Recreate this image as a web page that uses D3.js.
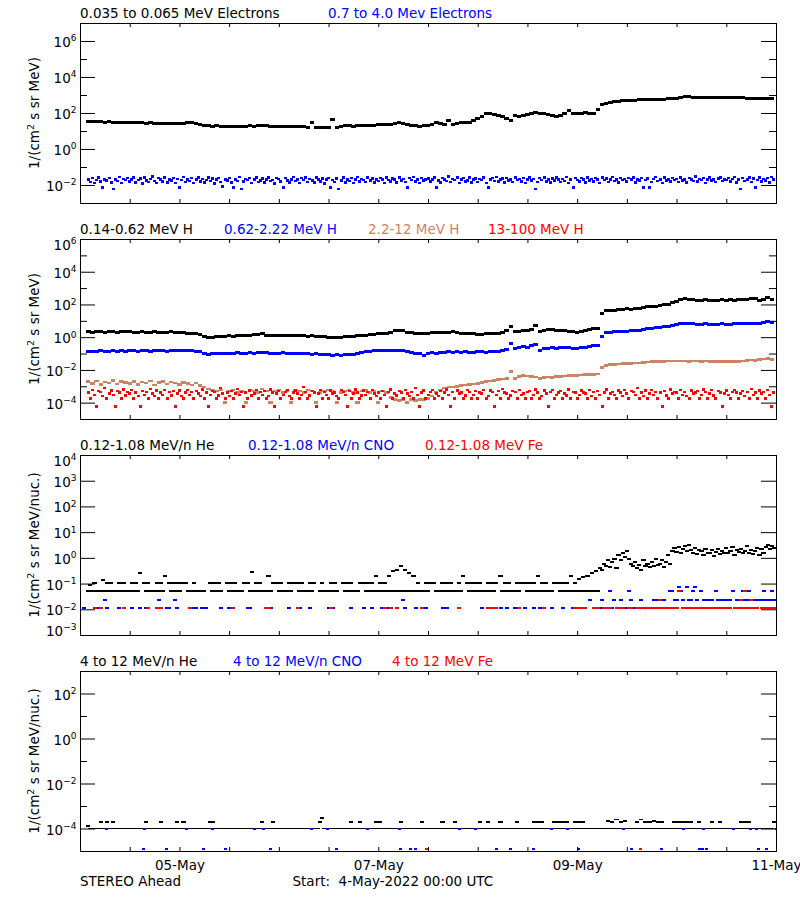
<!DOCTYPE html>
<html><head><meta charset="utf-8">
<script src="https://cdn.jsdelivr.net/npm/d3@7"></script>
<style>
body{margin:0;background:#fff}
svg{display:block;font-family:"DejaVu Sans",sans-serif}
text{white-space:pre}
</style></head><body>
<svg id="chart" width="800" height="900"></svg>
<script>
const _ = null;

// ---------- text ----------
const electronTitles = ["0.035 to 0.065 MeV Electrons", "0.7 to 4.0 Mev Electrons"];
const protonTitles = ["0.14-0.62 MeV H", "0.62-2.22 MeV H", "2.2-12 MeV H", "13-100 MeV H"];
const lowIonTitles = ["0.12-1.08 MeV/n He", "0.12-1.08 MeV/n CNO", "0.12-1.08 MeV Fe"];
const highIonTitles = ["4 to 12 MeV/n He", "4 to 12 MeV/n CNO", "4 to 12 MeV Fe"];
const dateTickLabels = ["05-May", "07-May", "09-May", "11-May"];
const footerLeft = "STEREO Ahead";
const footerStart = "Start:  4-May-2022 00:00 UTC";

// ---------- data (hours from 4-May-2022 00:00 UTC) ----------
// 0.035-0.065 MeV electrons, hourly
const eLowFlux = [
 _,_,34,33,32,33,31,32,30,31,30,29,
 28,29,28,28,27,28,27,26,27,26,26,27,
 26,27,28,28,25,23,20,19,18,19,18,18,
 18,18,17,18,18,19,18,19,20,19,18,17,
 17,17,18,17,18,18,17,16,30,16,16,15,
 15,45,16,17,19,19,18,19,20,20,21,21,
 22,22,23,24,27,28,26,22,20,19,18,19,
 21,23,30,25,24,38,23,25,28,29,31,40,
 50,62,88,95,80,71,60,52,36,70,60,72,
 85,95,107,100,90,82,75,68,72,88,130,100,
 98,100,102,98,95,150,300,340,380,410,440,470,
 500,510,520,530,540,545,550,560,570,580,600,620,
 680,740,780,790,770,750,740,745,735,730,720,715,
 710,710,700,700,690,680,660,650,660,650,655,650
];
// 0.7-4.0 MeV electrons, half-hourly
const eHighFlux = [
 _,_,_,_,.02,.015,.024,.013,.019,.027,.016,.007, .021,.018,.025,.014,.006,.02,.017,.028,.013,.022,.019,.024,
 .016,.021,.026,.014,.019,.023,.012,.027,.018,.015,.022,.029, .017,.013,.024,.02,.016,.026,.014,.021,.018,.025,.013,.022,
 .007,.019,.028,.015,.021,.017,.024,.013,.02,.026,.016,.022, .014,.019,.027,.017,.023,.012,.021,.025,.015,.008,.02,.018,
 .024,.014,.007,.021,.017,.028,.006,.016,.022,.019,.025,.013, .02,.027,.015,.018,.023,.014,.021,.026,.017,.019,.012,.024,
 .022,.016,.007,.025,.018,.014,.021,.028,.017,.02,.013,.024, .019,.026,.015,.022,.018,.014,.027,.02,.016,.023,.012,.021,
 .025,.007,.019,.015,.023,.006,.018,.027,.014,.021,.017,.024, .013,.02,.028,.016,.022,.019,.015,.026,.018,.023,.014,.02,
 .017,.025,.021,.013,.027,.019,.016,.023,.02,.014,.026,.018, .022,.015,.007,.024,.019,.028,.016,.021,.013,.025,.018,.02,
 .023,.016,.021,.027,.007,.018,.014,.025,.02,.017,.029,.015, .022,.019,.026,.013,.021,.024,.016,.018,.027,.014,.02,.023,
 .015,.022,.019,.026,.013,.007,.021,.024,.017,.028,.016,.02, .023,.014,.025,.018,.021,.015,.027,.019,.022,.016,.024,.013,
 .02,.026,.018,.022,.006,.015,.024,.019,.027,.016,.021,.014, .023,.018,.026,.02,.015,.022,.017,.028,.013,.021,.007,.024,
 .019,.016,.025,.021,.014,.027,.018,.022,.016,.024,.02,.013, .026,.019,.023,.015,.021,.028,.017,.02,.014,.025,.019,.022,
 .016,.024,.02,.027,.014,.021,.018,.025,.007,.019,.023,.007, .015,.022,.028,.017,.02,.013,.026,.018,.021,.016,.024,.019,
 .022,.015,.027,.018,.021,.014,.025,.02,.017,.029,.016,.022, .019,.024,.013,.021,.026,.018,.02,.015,.023,.027,.017,.021,
 .019,.025,.016,.022,.028,.014,.02,.006,.024,.017,.021,.026, .015,.023,.007,.019,.027,.016,.022,.018,.025,.014,.028,.021
];
// 0.14-0.62 MeV H, hourly
const hLowFlux = [
 _,_,2.1,2.0,2.2,2.1,2.0,2.1,2.2,2.0,2.1,2.1,
 2.1,2.0,2.0,2.1,1.9,2.0,2.1,2.0,1.9,2.0,2.1,1.9,
 1.9,2.0,1.8,1.7,1.6,1.5,1.1,0.93,1.0,1.1,1.05,1.1,
 1.2,1.15,1.2,1.25,1.3,1.3,1.4,1.5,1.7,1.3,1.25,1.2,
 1.25,1.3,1.2,1.25,1.3,1.2,1.25,1.15,1.2,1.1,1.1,1.05,
 1.0,1.0,0.95,1.0,1.1,1.05,1.1,1.2,1.3,1.35,1.4,1.5,
 1.6,1.7,1.8,2.0,2.5,2.7,2.4,2.0,1.9,1.8,1.7,1.8,
 1.8,1.9,1.9,2.0,1.9,2.0,2.1,1.9,1.8,1.7,1.6,1.6,
 1.5,1.5,1.6,1.7,1.7,1.7,1.9,2.5,4.7,2.1,2.3,2.7,
 2.5,2.8,5.5,2.1,2.6,3.1,2.8,2.7,2.5,2.4,2.3,2.2,
 2.0,2.1,2.4,2.9,3.2,3.6,30,40,42,44,46,52,
 57,50,55,60,65,70,74,78,85,93,100,134,
 150,200,235,210,190,186,186,190,185,180,186,190,
 186,190,186,195,200,210,235,225,165,200,250,210
];
// 0.62-2.22 MeV H, hourly
const hMidFlux = [
 _,_,.13,.14,.13,.15,.14,.13,.15,.14,.15,.14,
 .16,.15,.14,.15,.16,.14,.15,.16,.15,.14,.16,.15,
 .16,.15,.16,.15,.14,.13,.1,.093,.1,.095,.1,.1,
 .1,.1,.11,.1,.105,.11,.1,.11,.12,.11,.105,.1,
 .1,.11,.1,.1,.095,.1,.1,.095,.09,.095,.09,.085,
 .085,.081,.085,.08,.09,.09,.09,.1,.12,.14,.14,.15,
 .15,.16,.15,.16,.16,.16,.15,.13,.11,.1,.1,.08,
 .1,.11,.1,.12,.12,.13,.12,.13,.12,.13,.12,.12,
 .13,.13,.12,.13,.13,.14,.16,.18,.43,.21,.22,.26,
 .25,.3,.36,.16,.2,.21,.22,.2,.22,.23,.22,.21,
 .21,.22,.24,.26,.3,.3,1.07,2.0,2.0,2.1,2.1,2.2,
 2.3,2.4,2.5,2.7,3.0,3.2,3.5,3.7,4.0,4.3,4.6,5.5,
 6.0,6.9,6.5,6.6,6.4,6.3,6.3,6.5,6.3,6.2,6.3,6.4,
 6.3,6.3,6.5,6.4,6.6,6.5,6.9,6.6,6.8,7.5,8.7,8.0
];
// 2.2-12 MeV H, hourly
const hHighFlux = [
 _,_,.0019,.0015,.0021,.0013,.0018,.0016,.0022,.0014,.0019,.0017,
 .0015,.0020,.0013,.0018,.0016,.0021,.0012,.0017,.0019,.0014,.0018,.0016,
 .0013,.0017,.0015,.0012,.0016,.0011,.0009,.0007,.0006,.0005,.0006,.0001,
 .0005,.0006,.0004,.0005,.0001,.0006,.0005,.0004,.0007,.0005,.0001,.0005,
 .0006,.0004,.0005,.0001,.0006,.0005,.0004,.0006,.0005,.0001,.0004,.0005,
 .0006,.0005,.0001,.0004,.0005,.0006,.0004,.0001,.0005,.0006,.0004,.0005,
 .0001,.0005,.0004,.0002,.00015,.00014,.00016,.0001,.00015,.00014,.00016,.00015,
 .00018,.00025,.0004,.0006,.0008,.0009,.0009,.001,.0011,.0012,.0013,.0014,
 .0015,.0017,.0019,.0021,.0023,.0026,.0028,.0031,.0078,.0031,.0038,.0046,
 .0042,.0038,.0036,.0031,.0034,.0036,.0035,.0038,.0041,.0043,.0046,.0045,
 .0047,.0049,.0051,.0052,.0054,.0056,.0135,.018,.022,.022,.023,.024,
 .024,.025,.026,.027,.028,.03,.032,.032,.033,.034,.035,.036,
 .035,.036,.035,.034,.035,.035,.034,.035,.034,.033,.034,.033,
 .032,.033,.032,.034,.036,.038,.04,.039,.042,.046,.051,.045
];
// 13-100 MeV H, half-hourly
const hVHighFlux = [
 _,_,_,_,.0004,.00018,.0006,.0003,.00006,.0005,.00045,.00025, .0008,.00018,.00035,.00055,.0003,.00006,.0005,.0004,.00018,.00065,.00028,.00045,
 .00035,.0006,.00018,.0004,.00025,.00006,.0005,.0003,.00045,.00018,.0007,.00035, .00025,.00055,.00018,.0004,.0003,.0006,.00018,.00045,.00028,.0005,.00006,.00035,
 .00055,.00025,.00018,.0004,.0006,.0003,.00045,.00018,.0005,.00035,.00025,.00065, .00018,.0004,.00006,.0003,.0005,.00045,.00018,.00028,.0008,.00035,.00018,.0004,
 .00025,.0005,.00018,.00035,.0007,.0003,.00045,.00006,.0004,.00018,.00055,.00028, .00035,.0006,.00018,.00045,.0003,.0005,.00018,.00025,.00065,.0004,.00006,.00035,
 .0005,.00018,.0003,.00045,.0006,.00025,.00018,.0004,.00055,.00035,.00018,.0003, .0009,.00045,.00018,.00028,.0005,.0004,.00006,.00035,.0006,.00018,.00045,.0003,
 .00018,.00055,.00035,.0004,.00025,.00018,.0006,.00045,.0003,.00006,.0005,.00018, .00035,.00065,.0004,.00018,.00028,.00055,.0003,.00045,.00018,.0006,.00035,.00025,
 .0004,.00018,.0005,.0003,.00006,.00045,.00065,.00018,.00035,.00028,.0005,.0004, .00018,.0006,.00035,.00025,.00045,.00018,.0008,.0003,.00006,.0004,.00055,.00018,
 .0003,.00045,.0006,.00018,.00035,.00025,.0005,.00018,.0004,.00065,.0003,.00006, .00045,.00018,.00055,.00035,.0004,.00018,.00028,.0006,.00045,.00018,.0003,.0005,
 .00018,.0004,.00035,.0006,.00018,.00025,.00055,.00045,.00006,.0003,.0005,.00018, .0007,.0004,.00035,.00018,.00028,.0005,.00045,.00018,.0006,.0003,.00035,.00018,
 .00045,.0005,.00018,.0003,.00065,.0004,.00018,.00025,.00055,.00035,.00006,.00045, .0006,.00018,.0003,.0004,.0005,.00018,.00035,.00028,.00065,.00018,.00045,.0004,
 .00018,.0003,.00055,.0004,.00035,.00018,.0006,.00025,.00045,.00018,.0005,.0003, .00006,.0004,.00065,.00018,.00035,.00045,.0003,.00018,.00055,.0004,.00025,.0006,
 .00035,.00018,.0005,.00045,.0003,.0008,.00018,.0004,.00025,.00055,.00018,.00035, .0006,.0003,.00045,.00018,.0004,.00006,.0005,.00028,.00018,.00065,.00035,.00045,
 .0004,.00018,.0006,.0003,.00045,.00025,.00018,.00055,.00035,.0004,.0005,.00018, .0003,.00065,.00045,.00018,.00035,.0006,.00028,.00018,.0005,.0004,.00006,.00035,
 .00055,.0003,.00018,.00045,.0006,.0004,.00018,.00035,.0005,.00025,.00045,.00018, .0007,.0003,.0004,.00018,.00055,.00035,.00045,.00018,.0006,.0003,.00006,.0004
];
// 0.12-1.08 MeV/n He, half-hourly
const heLowFlux = [
 _,_,_,_,.052,.09,.052,.11,.052,_,.052,.14, .052,.11,.052,.11,.052,_,.052,.11,.052,.11,.052,_,
 .052,.11,.052,.11,.052,.25,_,.11,.052,.11,.052,_, .052,.11,.052,.11,.052,.2,_,.11,.052,.11,.052,.11,
 .052,.11,_,.11,.052,_,.052,.11,.052,_,.052,_, .052,_,_,.11,.052,.11,.052,.11,.052,_,_,.11,
 .052,.11,.052,.11,.052,_,.052,.11,_,.11,.052,.28, .052,.11,.052,.11,.052,_,.052,.2,.052,.11,_,.11,
 .052,.11,.052,_,.052,.11,.052,.11,_,.11,.052,.11, .052,_,.052,.11,.052,.11,_,_,.052,.11,.052,_,
 .052,.11,.052,.11,.052,_,_,.11,.052,.11,.052,.11, .052,_,.052,.11,_,.11,.052,.11,.052,.11,.052,.2,
 .052,.11,.052,.11,.052,.2,.052,.3,.052,.35,.052,.5, .052,.35,.052,.25,.052,.2,.052,.11,.052,_,.052,.11,
 .052,.11,_,.11,.052,_,.052,.11,.052,.11,.052,.11, .052,_,.052,.11,.052,.2,_,.11,.052,.11,.052,.11,
 .052,.11,.052,_,.052,.11,.052,.11,.052,.11,_,.2, .052,.11,.052,.11,.052,_,.052,.11,.052,.11,_,.11,
 .052,.11,.052,.11,.052,.2,.052,.11,.052,.11,.052,_, .052,.11,_,.11,.052,.11,.052,.11,.052,.2,.052,.11,
 .052,.15,.052,.18,.052,.2,.052,.25,.052,.3,.052,.4, .35,.6,.5,.8,.45,.7,.9,.4,1.3,.8,1.6,1.1,
 1.9,.9,.6,.5,.7,.4,.55,.35,.8,.5,.6,.45, .7,.5,.9,.55,.6,.8,.45,.7,1.3,.6,1.8,2.4,
 1.7,2.6,1.5,2.2,2.9,1.8,3.3,2.1,1.6,2.5,1.4,2.0, 1.9,1.3,2.3,1.6,1.5,2.0,1.2,1.7,2.2,1.4,1.9,1.6,
 2.4,1.5,1.8,2.6,1.3,2.1,1.7,2.3,1.5,1.9,2.8,1.6, 2.0,1.4,1.8,2.5,1.3,2.2,1.6,2.7,3.1,2.2,2.9,2.4
];
// 0.12-1.08 MeV/n CNO, half-hourly
const cnoLowFlux = [
 _,_,.0114,_,_,_,_,_,.0114,_,_,_, .023,.0114,_,_,_,_,_,.0114,_,_,_,_,
 _,.0114,_,_,_,.0114,_,_,.0114,_,_,_, _,_,.023,.0114,_,_,.0114,.0114,_,_,.023,.0114,
 _,_,_,_,_,_,.0114,_,.0114,_,_,.0114, _,.0114,_,_,_,_,_,_,.0114,_,_,_,
 .0114,_,_,_,_,_,_,_,_,.0114,.0114,_, _,_,_,_,_,_,.0114,_,.0114,_,_,_,
 _,_,_,_,_,.0114,_,_,_,_,.0114,_, _,_,_,.0114,_,_,_,_,_,_,_,_,
 .0114,_,.0114,_,_,_,_,_,_,_,_,.0114, _,_,_,_,_,.0114,_,_,_,.0114,_,_,
 _,_,.0114,_,_,.0114,_,_,_,_,_,_, .023,.0114,_,_,_,_,.0114,_,_,_,_,.0114,
 _,_,_,_,_,_,_,.0114,_,.0114,_,_, _,_,_,_,_,_,_,_,_,_,_,_,
 _,_,.0114,_,_,_,.0114,_,_,_,_,.0114, _,_,.0114,_,_,_,.0114,_,_,_,_,.0114,
 _,_,_,.0114,_,_,.0114,_,_,_,_,_, .0114,_,_,_,_,.0114,_,_,_,_,.0114,_,
 _,_,.0114,_,_,_,.023,_,.0114,.0114,_,.0114, .023,.0114,.0114,_,.05,.0114,.023,.0114,.0114,.023,.0114,.0114,
 .0114,.05,.023,.0114,.0114,.0114,_,.023,.0114,.0114,.0114,.0114, .0114,.023,.0114,.023,.0114,.023,.023,.0114,.0114,.05,.05,.023,
 .023,.076,.05,.023,.0114,.076,.023,.023,.05,.076,.023,.0114, .05,.023,.023,.0114,.023,.023,.0114,.05,.023,.023,.0114,.023,
 .0114,.023,.023,.05,.0114,.023,.023,.0114,.05,.023,.023,.05, .0114,.023,.023,.0114,.023,.023,.05,.023,.0114,.023,.05,.023
];
// 0.12-1.08 MeV Fe, half-hourly
const feLowFlux = [
 _,_,_,_,_,_,_,.0114,_,_,.0114,_, _,_,_,_,_,_,_,_,_,.0114,_,_,
 _,_,_,_,_,_,_,_,_,.0114,_,_, _,.0114,_,.0114,_,_,_,_,_,_,_,_,
 _,_,_,_,_,.0114,_,_,_,_,_,_, _,_,_,_,_,_,_,_,_,_,_,_,
 _,_,.0114,_,_,_,_,_,_,_,_,_, _,_,_,_,_,_,.0114,.0114,_,_,_,_,
 _,_,_,_,_,_,_,_,_,.0114,_,_, _,_,_,_,_,_,_,_,_,_,_,_,
 _,.0114,_,_,_,_,_,_,_,_,_,_, _,_,_,_,_,_,_,_,_,_,_,_,
 _,_,_,.0114,_,_,.0114,_,_,.0114,_,_, _,_,_,_,_,_,_,_,_,.0114,_,_,
 _,_,_,_,_,_,_,_,_,_,_,_, _,_,_,.0114,_,_,_,_,_,_,_,_,
 _,_,_,_,_,.0114,_,.0114,_,.0114,_,_, _,_,_,_,_,_,_,_,.0114,_,_,_,
 _,_,_,_,_,_,_,_,.0114,_,_,_, _,_,_,_,_,_,_,_,_,_,_,.0114,
 .0114,_,.0114,_,.0114,_,_,_,.0114,.0114,.0114,_, _,.0114,_,.0114,.0114,_,_,.0114,.0114,_,.0114,_,
 _,.0114,.0114,_,_,.0114,.0114,.0114,.0114,_,.0114,.0114, .0114,.0114,.0114,.0114,.023,.0114,.0114,.0114,_,.0114,.0114,.0114,
 .0114,.05,_,.0114,.0114,.0114,.0114,.0114,.0114,_,.0114,.0114, .0114,.0114,_,.0114,.0114,.0114,.0114,.0114,.0114,_,.0114,.0114,
 .0114,.0114,.0114,_,.0114,.0114,.0114,.023,.0114,.05,.0114,.0114, .023,.0114,.0114,.0114,_,.0114,.0114,.0114,.0114,_,.0114,.0114
];
// 4-12 MeV/n He, half-hourly
const heHighFlux = [
 _,_,_,_,.00013,.0001,.0001,.0001,.0001,.0001,.0002,.0001, .0001,.0002,.0001,.0001,.0002,.0001,.0001,.0001,.0001,.0001,.0001,.0001,
 .0001,.0001,.0001,.0001,.0001,.0001,.0001,.0001,.0002,.0001,.0001,.0001, .0001,.0001,.0001,.0002,.0001,.0001,.0001,.0001,.0001,.0001,.0001,.0002,
 .0001,.0001,.0002,.0001,.0001,_,.0001,.0001,.0001,.0001,.0001,.0001, .0001,.0001,.0001,.0002,.0002,.0001,.0001,.0001,.0001,.0001,.0001,.0001,
 .0001,.0001,.0001,.0001,.0001,.0001,.0001,_,.0001,.0001,.0001,.0001, .0001,.0001,.0001,.0001,.0002,.0001,.0001,.0001,.0001,.0002,.0001,.0001,
 .0001,.0001,.0001,.0001,.0001,.0001,.0001,.0001,_,.0001,.0001,.0001, .0001,.0001,.0001,.0001,.0001,.0001,.0001,.0001,.0002,.0003,.0001,.0001,
 .0001,.0001,.0001,.0001,.0001,.0001,.0001,.0001,.0001,.0001,.0001,.0002, .0001,.0001,.0001,.0002,.0001,.0001,.0001,.0001,.0001,.0001,.0001,.0002,
 .0001,.0002,.0001,.0001,.0001,.0001,.0001,.0001,.0001,.0001,.0001,.0002, .0001,.0001,.0001,.0001,.0001,.0001,.0001,.0001,.0001,.0002,.0001,.0001,
 .0001,.0001,.0001,.0001,.0001,.0001,.0001,.0002,.0001,.0001,.0001,.0001, .0001,.0002,.0001,.0001,.0001,.0001,_,.0001,.0001,.0001,.0001,.0001,
 .0001,.0002,.0001,.0001,.0001,.0002,.0001,.0001,.0001,.0001,.0001,.0002, .0001,.0001,.0001,.0001,.0001,.0001,.0001,.0002,.0001,.0001,.0001,.0001,
 .0001,.0001,.0001,.0002,.0001,.0002,.0001,.0002,.0001,.0001,.0001,.0001, .0001,.0002,.0001,.0002,.0001,.0002,.0001,.0002,.0001,.0001,.0001,.0002,
 .0001,.0002,.0001,.0002,.0001,.0001,.0001,.0001,.0001,.0001,.0001,.0001, .0001,.0001,.0001,.00022,.0001,.0002,.0001,.00025,.0001,.0002,.0001,.00022,
 .0001,.0001,.0001,.0001,.0001,.0002,.0001,.00025,.0001,.0002,.0001,.0002, .0001,.00022,.0001,.0002,.0001,.0002,.0001,.0001,.0001,.0001,.0001,.0002,
 .0001,.0002,.0001,.0002,.0001,.0002,.0001,.0002,.0001,.0001,.0001,.0002, .0001,.0001,.0001,.0001,.0001,.0002,.0001,.0001,.0001,.0002,.0001,.0001,
 .0001,.0001,.0001,.0001,.0001,.0001,.0001,.0002,.0001,.0002,.0001,.0002, .0001,.0001,.0001,.0001,.0001,.0001,.0001,.0001,.0001,.0001,.0001,.0002
];
// 4-12 MeV/n CNO, [hour, flux]
const cnoHighPoints = [[6.5,1e-4],[15.3,1.2e-5],[15.6,1e-4],[20.9,1.2e-5],[25.7,1e-4],[29.8,1.2e-5],[31.9,1e-4],[35,1.2e-5],
 [42.2,1e-4],[44.2,1e-4],[45.9,1.2e-5],[55.9,1e-4],[59.8,1e-4],[61.9,1.2e-5],[69.5,1e-4],[77.2,1e-4],[77.3,1.2e-5],
 [79.7,1.2e-5],[80.9,1.2e-5],[91.5,1e-4],[95.5,1e-4],[100.6,1.2e-5],[103.8,1.2e-5],[109.4,1.2e-5],[113.7,1e-4],
 [117.7,1e-4],[120.3,1.2e-5],[131.3,1e-4],[133.2,1.2e-5],[140.4,1.2e-5],[145.7,1e-4],[149.6,1.2e-5],[150.3,1.2e-5],
 [150.5,1e-4],[151.3,1.2e-5],[157.7,1e-4],[161.8,1e-4],[163.4,1e-4],[163.7,1.2e-5],[165.7,1.2e-5],[168,1e-4]];
// 4-12 MeV Fe, [hour, flux]
const feHighPoints = [[83.7,1.2e-5],[135.3,1.2e-5]];

// ---------- layout ----------
const BLACK = "#000000", BLUE = "#0000ff", BROWN = "#cd8264", RED = "#ff0000";
const X0 = 80, X1 = 776, PH = 180;
const t0 = Date.UTC(2022, 4, 4);
const hourDate = h => new Date(t0 + h * 3600e3);
const xScale = d3.scaleUtc().domain([hourDate(0), hourDate(168)]).range([X0, X1]);

const panels = [
  {top: 23, exps: [-3, 7], every: 2, nuc: false,
   titles: [[electronTitles[0], 80, BLACK], [electronTitles[1], 328, BLUE]],
   series: [
     {values: eLowFlux, step: 1, color: BLACK, w: 4.6, h: 3},
     {values: eHighFlux, step: 0.5, color: BLUE, w: 3, h: 2.6}]},
  {top: 239, exps: [-5, 6], every: 2, nuc: false,
   titles: [[protonTitles[0], 80, BLACK], [protonTitles[1], 224, BLUE], [protonTitles[2], 368, BROWN], [protonTitles[3], 488, RED]],
   series: [
     {values: hLowFlux, step: 1, color: BLACK, w: 4.6, h: 3},
     {values: hMidFlux, step: 1, color: BLUE, w: 4.6, h: 3},
     {values: hHighFlux, step: 1, color: BROWN, w: 4.4, h: 2.6},
     {values: hVHighFlux, step: 0.5, color: RED, w: 3, h: 2.6}]},
  {top: 455, exps: [-3, 4], every: 1, nuc: true,
   titles: [[lowIonTitles[0], 80, BLACK], [lowIonTitles[1], 248, BLUE], [lowIonTitles[2], 425, RED]],
   series: [
     {values: heLowFlux, step: 0.5, color: BLACK, w: 4.2, h: 2},
     {values: cnoLowFlux, step: 0.5, color: BLUE, w: 4, h: 2},
     {values: feLowFlux, step: 0.5, color: RED, w: 4, h: 2}]},
  {top: 671, exps: [-5, 3], every: 2, nuc: true,
   titles: [[highIonTitles[0], 80, BLACK], [highIonTitles[1], 233, BLUE], [highIonTitles[2], 392, RED]],
   series: [
     {values: heHighFlux, step: 0.5, color: BLACK, w: 4.2, h: 1.6},
     {points: cnoHighPoints, color: BLUE, w: 3, h: 2},
     {points: feHighPoints, color: RED, w: 3, h: 2}]}
];

const svg = d3.select("#chart");
svg.append("rect").attr("width", 800).attr("height", 900).attr("fill", "#fff");

panels.forEach((p, pi) => {
  const top = p.top, bottom = top + PH;
  const y = d3.scaleLog().domain([Math.pow(10, p.exps[0]), Math.pow(10, p.exps[1])]).range([bottom, top]);
  const g = svg.append("g");

  const cid = "clip" + pi;
  svg.append("defs").append("clipPath").attr("id", cid)
    .append("rect").attr("x", X0).attr("y", top).attr("width", X1 - X0).attr("height", PH);

  const marks = g.append("g").attr("clip-path", `url(#${cid})`).attr("shape-rendering", "crispEdges");
  p.series.forEach(s => {
    const pts = [];
    if (s.values) s.values.forEach((v, i) => { if (v != null) pts.push([i * s.step, v]); });
    else s.points.forEach(d => pts.push(d));
    marks.append("g").attr("fill", s.color).selectAll("rect").data(pts).join("rect")
      .attr("x", d => xScale(hourDate(d[0])) - s.w / 2)
      .attr("y", d => y(d[1]) - s.h / 2)
      .attr("width", s.w).attr("height", s.h);
  });

  g.append("rect").attr("x", X0 + 0.5).attr("y", top + 0.5).attr("width", X1 - X0).attr("height", PH)
    .attr("fill", "none").attr("stroke", "#000").attr("stroke-width", 1);

  const exps = d3.range(p.exps[0], p.exps[1] + 1);
  const major = exps.filter(e => p.every === 1 || e % 2 === 0).map(e => Math.pow(10, e));
  const minor = exps.filter(e => !(p.every === 1 || e % 2 === 0)).map(e => Math.pow(10, e));
  const clean = sel => { sel.select(".domain").remove(); sel.selectAll("text").remove(); sel.selectAll("line").attr("stroke", "#000"); };
  g.append("g").attr("transform", `translate(${X0},0)`).call(d3.axisLeft(y).tickValues(major).tickSize(-15).tickSizeOuter(0)).call(clean);
  g.append("g").attr("transform", `translate(${X0},0)`).call(d3.axisLeft(y).tickValues(minor).tickSize(-7).tickSizeOuter(0)).call(clean);
  g.append("g").attr("transform", `translate(${X1},0)`).call(d3.axisRight(y).tickValues(major).tickSize(-15).tickSizeOuter(0)).call(clean);
  g.append("g").attr("transform", `translate(${X1},0)`).call(d3.axisRight(y).tickValues(minor).tickSize(-7).tickSizeOuter(0)).call(clean);

  const xt = d3.utcHour.every(12).range(hourDate(12), hourDate(168));
  g.append("g").attr("transform", `translate(0,${bottom})`).call(d3.axisBottom(xScale).tickValues(xt).tickSize(-4).tickSizeOuter(0)).call(clean);
  g.append("g").attr("transform", `translate(0,${top})`).call(d3.axisTop(xScale).tickValues(xt).tickSize(-4).tickSizeOuter(0)).call(clean);

  major.forEach(v => {
    const e = Math.round(Math.log10(v));
    const ty = y(v);
    const base = Math.max(top + 11, Math.min(bottom + 1, ty + 6));
    const t = g.append("text").attr("x", 76.5).attr("y", base).attr("text-anchor", "end")
      .attr("font-size", 13.5).attr("fill", "#000");
    t.append("tspan").text("10");
    t.append("tspan").attr("font-size", 9).attr("dy", -5.6).text(e < 0 ? "\u2212" + (-e) : String(e));
  });

  const yl = g.append("text").attr("transform", `translate(39,${top + PH / 2}) rotate(-90)`)
    .attr("text-anchor", "middle").attr("font-size", 13.5).attr("fill", "#000");
  yl.append("tspan").text("1/(cm");
  yl.append("tspan").attr("font-size", 9.5).attr("dy", -5.5).text("2");
  yl.append("tspan").attr("dy", 5.5).text(p.nuc ? " s sr MeV/nuc.)" : " s sr MeV)");

  p.titles.forEach(([txt, x, col]) => {
    g.append("text").attr("x", x).attr("y", top - 5).attr("font-size", 13.5).attr("fill", col).text(txt);
  });

  if (pi === panels.length - 1) {
    const dl = [1, 3, 5, 7].map(d => hourDate(d * 24));
    const ax = g.append("g").attr("transform", `translate(0,${bottom})`)
      .call(d3.axisBottom(xScale).tickValues(dl).tickSize(0).tickSizeOuter(0).tickFormat((d, i) => dateTickLabels[i]));
    ax.select(".domain").remove();
    ax.attr("font-family", null).attr("font-size", null);
    ax.selectAll("text").attr("y", 19).attr("dy", null).attr("font-size", 13.5).attr("fill", "#000");
  }
});

svg.append("text").attr("x", 80).attr("y", 886).attr("font-size", 13.5).text(footerLeft);
svg.append("text").attr("x", 292.5).attr("y", 886).attr("font-size", 13.5).text(footerStart);
</script>
</body></html>
